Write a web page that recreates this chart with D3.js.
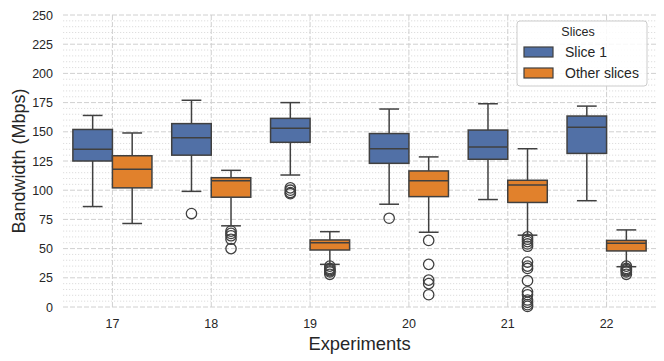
<!DOCTYPE html>
<html>
<head>
<meta charset="utf-8">
<script src="https://cdn.jsdelivr.net/npm/d3@7"></script>
<style>
  body { margin: 0; background: #fff; }
  text { font-family: "Liberation Sans", Arial, sans-serif; fill: #262626; }
</style>
</head>
<body>
<div id="chart"></div>
<script>
// Data: [lower whisker, Q1, median, Q3, upper whisker]
const experiments = ['17', '18', '19', '20', '21', '22'];
const slices = ['Slice 1', 'Other slices'];
const slice1Box = [
    [86, 125, 135, 152, 164],
    [99, 130, 145, 157, 177],
    [113, 141, 153, 161.5, 175],
    [88, 123, 135.5, 148.5, 169.5],
    [92, 126.5, 137, 151.5, 174],
    [91, 131.5, 154, 163.5, 172]
];
const otherBox = [
    [71.5, 102, 118, 129.5, 149],
    [69.5, 94, 108, 110.7, 117],
    [36.5, 48.8, 55, 57.4, 64.5],
    [64, 94.5, 108, 116.5, 128.5],
    [61.5, 89.5, 104.5, 108.5, 135.5],
    [34.5, 48, 54.5, 57, 66]
];
const slice1Outliers = [[], [80], [102, 100, 98, 97], [76], [], []];
const otherOutliers = [
    [],
    [65, 63, 61, 58, 50],
    [35, 33, 32, 31, 30, 28],
    [57, 36.5, 23, 20, 10.5],
    [60, 58, 56, 54, 52, 38.5, 35, 33, 22.5, 13, 10.5, 6, 4, 2, 0.5],
    [35, 33, 32, 31, 30, 28]
];
const yTicks = [0, 25, 50, 75, 100, 125, 150, 175, 200, 225, 250];
const colors = ['#5170a6', '#e1812c'];

// Layout
const margin = { top: 15, right: 8, bottom: 54, left: 63 };
const W = 664, H = 361;
const width = W - margin.left - margin.right;
const height = H - margin.top - margin.bottom;

const svg = d3.select('#chart')
    .append('svg')
    .attr('width', W)
    .attr('height', H)
    .append('g')
    .attr('transform', `translate(${margin.left}, ${margin.top})`);

// Scales
const xScale = d3.scaleBand().domain(experiments).range([0, width]);
const xSub = d3.scaleBand().domain(slices).range([xScale.bandwidth() * 0.1, xScale.bandwidth() * 0.9]);
const yScale = d3.scaleLinear().domain([0, 250]).range([height, 0]);

// Minor grid (dotted, every 5)
svg.append('g')
    .selectAll('line')
    .data(d3.range(0, 251, 5).filter(v => v % 25 !== 0))
    .enter().append('line')
    .attr('x1', 0).attr('x2', width)
    .attr('y1', d => yScale(d)).attr('y2', d => yScale(d))
    .attr('stroke', '#d6d6d6')
    .attr('stroke-width', 0.8)
    .attr('stroke-dasharray', '1.2,1.8');

// Major grid (dashed)
svg.append('g')
    .selectAll('line')
    .data(yTicks)
    .enter().append('line')
    .attr('x1', 0).attr('x2', width)
    .attr('y1', d => yScale(d)).attr('y2', d => yScale(d))
    .attr('stroke', '#d0d0d0')
    .attr('stroke-width', 1)
    .attr('stroke-dasharray', '5,2');
svg.append('g')
    .selectAll('line')
    .data(experiments)
    .enter().append('line')
    .attr('x1', d => xScale(d) + xScale.bandwidth() / 2)
    .attr('x2', d => xScale(d) + xScale.bandwidth() / 2)
    .attr('y1', 0).attr('y2', height)
    .attr('stroke', '#d0d0d0')
    .attr('stroke-width', 1)
    .attr('stroke-dasharray', '5,2');

// Axes (text only, no spines)
const yAxis = svg.append('g').call(d3.axisLeft(yScale).tickValues(yTicks).tickSize(0).tickPadding(10));
const xAxis = svg.append('g')
    .attr('transform', `translate(0, ${height})`)
    .call(d3.axisBottom(xScale).tickSize(0).tickPadding(12));
[yAxis, xAxis].forEach(a => {
    a.select('.domain').remove();
    a.selectAll('text').attr('font-size', 12.5).attr('fill', '#262626')
        .style('font-family', '"Liberation Sans", Arial, sans-serif');
});

svg.append('text')
    .text('Bandwidth (Mbps)')
    .attr('font-size', 18)
    .attr('text-anchor', 'middle')
    .attr('transform', `translate(${-38}, ${height / 2}) rotate(-90)`);
svg.append('text')
    .text('Experiments')
    .attr('font-size', 18.4)
    .attr('text-anchor', 'middle')
    .attr('x', width / 2)
    .attr('y', height + 43);

// Boxes
const lineColor = '#404040';
const series = [
    { name: slices[0], box: slice1Box, out: slice1Outliers, color: colors[0] },
    { name: slices[1], box: otherBox, out: otherOutliers, color: colors[1] }
];
series.forEach(s => {
    const g = svg.append('g');
    s.box.forEach((b, i) => {
        const x0 = xScale(experiments[i]) + xSub(s.name);
        const bw = xSub.bandwidth();
        const cx = x0 + bw / 2;
        const capW = bw / 2;
        // whiskers
        g.append('line').attr('x1', cx).attr('x2', cx)
            .attr('y1', yScale(b[0])).attr('y2', yScale(b[1]))
            .attr('stroke', lineColor).attr('stroke-width', 1.5);
        g.append('line').attr('x1', cx).attr('x2', cx)
            .attr('y1', yScale(b[3])).attr('y2', yScale(b[4]))
            .attr('stroke', lineColor).attr('stroke-width', 1.5);
        [b[0], b[4]].forEach(v => {
            g.append('line').attr('x1', cx - capW / 2).attr('x2', cx + capW / 2)
                .attr('y1', yScale(v)).attr('y2', yScale(v))
                .attr('stroke', lineColor).attr('stroke-width', 1.5);
        });
        // box
        g.append('rect')
            .attr('x', x0).attr('width', bw)
            .attr('y', yScale(b[3])).attr('height', yScale(b[1]) - yScale(b[3]))
            .attr('fill', s.color)
            .attr('stroke', lineColor).attr('stroke-width', 1.5);
        // median
        g.append('line').attr('x1', x0).attr('x2', x0 + bw)
            .attr('y1', yScale(b[2])).attr('y2', yScale(b[2]))
            .attr('stroke', lineColor).attr('stroke-width', 1.5);
        // outliers
        g.selectAll('.o' + i)
            .data(s.out[i])
            .enter().append('circle')
            .attr('cx', cx).attr('cy', d => yScale(d)).attr('r', 5.2)
            .attr('fill', 'none')
            .attr('stroke', lineColor).attr('stroke-width', 1.3);
    });
});

// Legend
const lg = svg.append('g').attr('transform', `translate(${454}, ${6})`);
lg.append('rect')
    .attr('width', 130).attr('height', 65)
    .attr('rx', 3)
    .attr('fill', 'rgba(255,255,255,0.85)')
    .attr('stroke', '#cccccc');
lg.append('text').text('Slices')
    .attr('x', 61).attr('y', 15).attr('text-anchor', 'middle').attr('font-size', 12.5);
slices.forEach((s, i) => {
    lg.append('rect')
        .attr('x', 7).attr('y', 26 + i * 21).attr('width', 29).attr('height', 10)
        .attr('fill', colors[i]).attr('stroke', lineColor).attr('stroke-width', 1.2);
    lg.append('text').text(s)
        .attr('x', 48).attr('y', 36 + i * 21).attr('font-size', 14);
});
</script>
</body>
</html>
